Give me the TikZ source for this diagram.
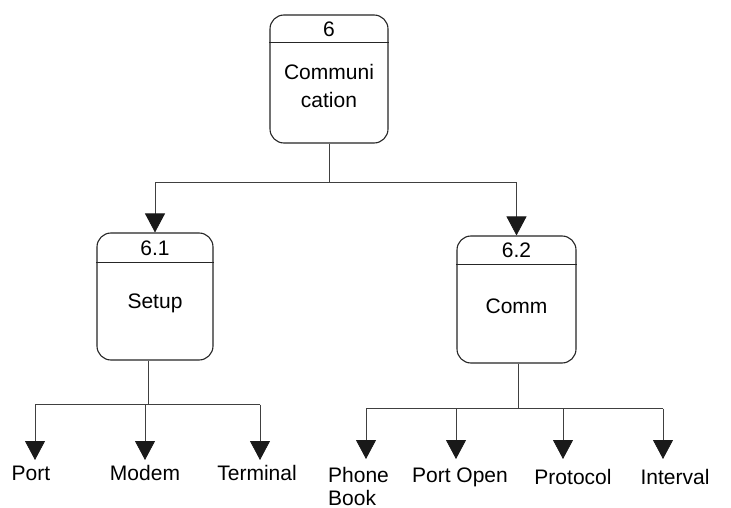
\documentclass[tikz,border=0pt]{standalone}
\usepackage{fontspec}
\setmainfont{Liberation Sans}
\usetikzlibrary{arrows.meta,calc}
\begin{document}
\begin{tikzpicture}[x=1pt,y=-1pt,
  proc/.style={draw=black!85, line width=1.1pt, rounded corners=14pt, inner sep=0pt},
  divline/.style={draw=black!85, line width=1.1pt},
  lbl/.style={font=\fontsize{21}{23}\selectfont, inner sep=0pt, text=black},
  wire/.style={draw=black!75, line width=0.8pt},
  arr/.style={wire, -{Triangle[width=20pt,length=19pt,color=black!90]}},
]
\useasboundingbox[fill=white] (0,0) rectangle (731,508);

% process 6
\node[proc, minimum width=118pt, minimum height=128pt] (p6) at (329,79) {};
\draw[divline] ($(p6.north west)+(0,28)$) -- ($(p6.north east)+(0,28)$);
\node[lbl] (n6) at (329,29) {6};
\node[lbl, align=center, font=\fontsize{21}{28}\selectfont] (t6) at (329,86) {Communi\\cation};

% process 6.1
\node[proc, minimum width=116pt, minimum height=127pt] (p61) at (155,296.5) {};
\draw[divline] ($(p61.north west)+(0,30)$) -- ($(p61.north east)+(0,30)$);
\node[lbl] (n61) at (155,248) {6.1};
\node[lbl] (t61) at (155,303) {Setup};

% process 6.2
\node[proc, minimum width=119pt, minimum height=127pt] (p62) at (516.5,299.5) {};
\draw[divline] ($(p62.north west)+(0,29)$) -- ($(p62.north east)+(0,29)$);
\node[lbl] (n62) at (516.5,250) {6.2};
\node[lbl] (t62) at (516.5,306) {Comm};

% top connectors
\draw[wire] (p6.south) -- ++(0,39) coordinate (bus0);
\draw[wire] (bus0 -| p61.north) -- (bus0 -| p62.north);
\draw[arr] (bus0 -| p61.north) -- (p61.north);
\draw[arr] (bus0 -| p62.north) -- (p62.north);

% leaves of 6.1
\node[lbl] (lport) at (31,473) {Port};
\node[lbl] (lmodem) at (145,473) {Modem};
\node[lbl] (lterm) at (257,473) {Terminal};
\coordinate (tport) at (35,460);
\coordinate (tmodem) at (145,460);
\coordinate (tterm) at (260,460);
\draw[wire] ($(p61.south)+(-7,0)$) -- ++(0,44) coordinate (bus1);
\draw[wire] (bus1 -| tport) -- (bus1 -| tterm);
\draw[arr] (bus1 -| tport) -- (tport);
\draw[arr] (bus1 -| tmodem) -- (tmodem);
\draw[arr] (bus1 -| tterm) -- (tterm);

% leaves of 6.2
\node[lbl, align=left, anchor=west] (lphone) at (328,486) {Phone\\Book};
\node[lbl] (lportopen) at (460,477) {Port Open};
\node[lbl] (lproto) at (573,477) {Protocol};
\node[lbl] (linter) at (675,477) {Interval};
\coordinate (tphone) at (366,459);
\coordinate (tportopen) at (456,459);
\coordinate (tproto) at (563,459);
\coordinate (tinter) at (663,459);
\draw[wire] ($(p62.south)+(1.5,0)$) -- ++(0,45) coordinate (bus2);
\draw[wire] (bus2 -| tphone) -- (bus2 -| tinter);
\draw[arr] (bus2 -| tphone) -- (tphone);
\draw[arr] (bus2 -| tportopen) -- (tportopen);
\draw[arr] (bus2 -| tproto) -- (tproto);
\draw[arr] (bus2 -| tinter) -- (tinter);
\end{tikzpicture}
\end{document}
